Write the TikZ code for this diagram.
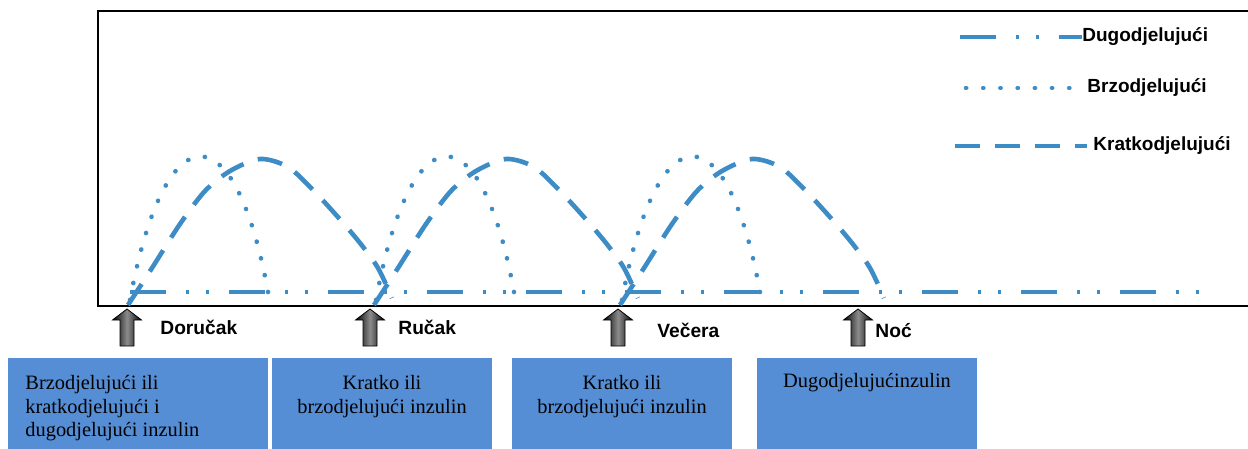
\documentclass[tikz,border=0pt]{standalone}
\usepackage{fontspec}
\setmainfont{Liberation Serif}
\setsansfont{Liberation Sans}
\usepackage{tikz}
\usetikzlibrary{shapes,arrows}
\definecolor{curveblue}{RGB}{62,140,198}
\definecolor{boxblue}{RGB}{85,142,213}
\tikzset{
  dugo/.style={curveblue, line width=2pt, dash pattern=on 18pt off 10pt on 1.5pt off 8.5pt on 1.5pt off 10pt},
  brzo/.style={curveblue, line width=2.3pt, line cap=round, dash pattern=on 0.1pt off 8.5pt},
  kratko/.style={curveblue, line width=2.3pt, dash pattern=on 12.5pt off 7.5pt},
  meal/.style={font=\sffamily\bfseries\fontsize{9.6}{11}\selectfont, anchor=west, inner sep=0pt},
  legend/.style={font=\sffamily\bfseries\fontsize{9.5}{11}\selectfont, anchor=west, inner sep=0pt},
  insbox/.style={fill=boxblue, anchor=north west, minimum height=60pt, inner sep=0pt},
  boxtext/.style={font=\fontsize{10.2}{11.75}\selectfont, inner sep=0pt, anchor=north, align=center}
}
\begin{document}
\begin{tikzpicture}[x=0.5pt, y=-0.5pt]
  \useasboundingbox (0,0) rectangle (1248,449);
  % frame
  \draw[line width=1pt] (1248,11) -- (98,11) -- (98,306) -- (1248,306);
  % insulin curves
  \draw[dugo] (130,292) -- (1215,292);
  \foreach \s in {0,246,492}{
    \draw[brzo] (130+\s,300) .. controls (165+\s,110) and (235+\s,110) .. (268+\s,292);
    \draw[kratko] plot[smooth] coordinates {(128+\s,305) (152+\s,268) (180+\s,224) (205+\s,191)
      (230+\s,171) (260+\s,159) (288+\s,167) (313+\s,190) (337+\s,216) (360+\s,243) (378+\s,268) (392+\s,298)};
  }
  % meals
  \foreach \x/\name/\lx/\ly/\txt in {127/dor/160/327/Doručak, 370/ruc/398/327/Ručak, 618/vec/657/330/Večera, 858/noc/875/331/Noć}{
    \draw[left color=black, right color=black, middle color=black!45, draw=black, line width=0.4pt]
      (\x,309) -- ++(14.5,11) -- ++(-7.5,0) -- ++(0,26) -- ++(-14,0) -- ++(0,-26) -- ++(-7.5,0) -- cycle;
    \node[meal] (\name) at (\lx,\ly) {\txt};
  }
  % legend
  \node[legend] (ldugo) at (1082,37) {Dugodjelujući};
  \node[legend] (lbrzo) at (1087,88) {Brzodjelujući};
  \node[legend] (lkratko) at (1093,146) {Kratkodjelujući};
  \draw[dugo] (960,37) -- (ldugo.west);
  \draw[brzo, shorten >=6pt] (966,88) -- (lbrzo.west);
  \draw[kratko] (955,146) -- ([xshift=-3pt]lkratko.west);
  % boxes
  \node[insbox, minimum width=130pt] (b1) at (8,358) {};
  \node[insbox, minimum width=110pt] (b2) at (272,358) {};
  \node[insbox, minimum width=110pt] (b3) at (512,358) {};
  \node[insbox, minimum width=110pt] (b4) at (757,358) {};
  \node[boxtext, anchor=north west, align=left] (t1) at (25,375) {Brzodjelujući ili\\kratkodjelujući i\\dugodjelujući inzulin};
  \node[boxtext] (t2) at (382,375) {Kratko ili\\brzodjelujući inzulin};
  \node[boxtext] (t3) at (622,375) {Kratko ili\\brzodjelujući inzulin};
  \node[boxtext] (t4) at (867,373) {Dugodjelujućinzulin};
\end{tikzpicture}
\end{document}
